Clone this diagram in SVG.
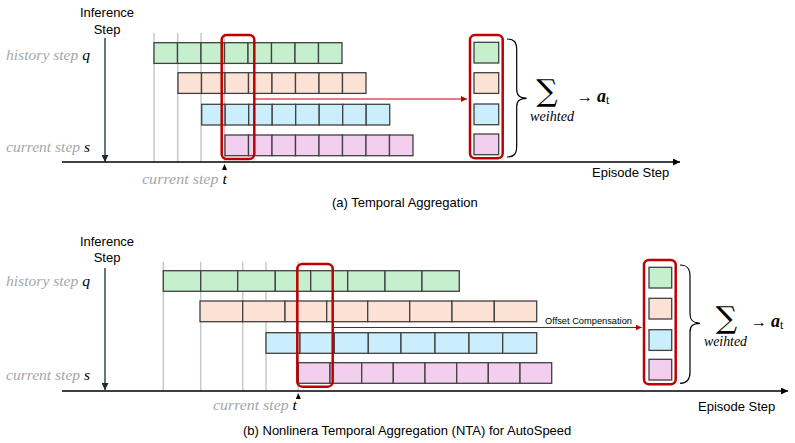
<svg xmlns="http://www.w3.org/2000/svg" width="795" height="443" viewBox="0 0 795 443">
<defs>
<marker id="ah" viewBox="0 0 10 10" refX="10" refY="5" markerWidth="7" markerHeight="7" markerUnits="userSpaceOnUse" orient="auto"><path d="M0,0 L10,5 L0,10 z" fill="#000"/></marker>
<marker id="ahn" viewBox="0 0 10 10" refX="10" refY="5" markerWidth="7" markerHeight="7" markerUnits="userSpaceOnUse" orient="auto"><path d="M0,0 L10,5 L0,10 z" fill="#1c2b3a"/></marker>
<marker id="ahr" viewBox="0 0 10 10" refX="10" refY="5" markerWidth="6" markerHeight="6" markerUnits="userSpaceOnUse" orient="auto"><path d="M0,0 L10,5 L0,10 z" fill="#C00000"/></marker>
</defs>
<style>
.sans{font-family:"Liberation Sans",Arial,sans-serif;font-size:13px;fill:#000}
.lbl{font-family:"Liberation Serif","DejaVu Serif",serif;font-style:italic;font-size:15.5px;fill:#a6a6a6}
.var{fill:#000}
.g{fill:#c6efce;stroke:#404040;stroke-width:1.3}
.o{fill:#fbe2d5;stroke:#404040;stroke-width:1.3}
.b{fill:#caeefb;stroke:#404040;stroke-width:1.3}
.p{fill:#f2cfee;stroke:#404040;stroke-width:1.3}
.grid{stroke:#c8c8c8;stroke-width:1.5}
.axis{stroke:#000;stroke-width:1.3;fill:none}
.varr{stroke:#1c2b3a;stroke-width:1.3;fill:none}
.red{fill:none;stroke:#C00000;stroke-width:2.5}
.rline{stroke:#C00000;stroke-width:1.2;fill:none}
.brace{fill:none;stroke:#000;stroke-width:1.2}
.sig{font-family:"DejaVu Serif","Liberation Serif",serif;font-size:30px;fill:#000}
.w{font-family:"Liberation Serif","DejaVu Serif",serif;font-style:italic;font-size:14px;fill:#000}
.at{font-family:"Liberation Serif","DejaVu Serif",serif;font-size:16px;fill:#000}
</style>

<!-- ===== Part (a) ===== -->
<g id="a-grid">
<line class="grid" x1="154" y1="33" x2="154" y2="162"/>
<line class="grid" x1="177.7" y1="33" x2="177.7" y2="162"/>
<line class="grid" x1="201" y1="33" x2="201" y2="162"/>
<line class="grid" x1="224.5" y1="33" x2="224.5" y2="162"/>
</g>
<g id="a-axes">
<line class="axis" x1="62" y1="162" x2="680" y2="162" marker-end="url(#ah)"/>
<line class="varr" x1="105" y1="38" x2="105" y2="162" marker-end="url(#ahn)"/>
<polygon points="224.5,164 222,170 227,170" fill="#000"/>
</g>
<g id="a-labels">
<text class="sans" x="107" y="17" text-anchor="middle">Inference</text>
<text class="sans" x="107" y="33.5" text-anchor="middle">Step</text>
<text class="lbl" x="6" y="60" textLength="84" lengthAdjust="spacingAndGlyphs">history step <tspan class="var">q</tspan></text>
<text class="lbl" x="6" y="152" textLength="84" lengthAdjust="spacingAndGlyphs">current step <tspan class="var">s</tspan></text>
<text class="lbl" x="142" y="184" textLength="85" lengthAdjust="spacingAndGlyphs">current step <tspan class="var">t</tspan></text>
<text class="sans" x="592" y="177">Episode Step</text>
<text class="sans" x="332" y="207">(a) Temporal Aggregation</text>
</g>
<g id="a-row-history">
<rect class="g" x="154" y="42.7" width="23.5" height="20.7"/>
<rect class="g" x="177.5" y="42.7" width="23.5" height="20.7"/>
<rect class="g" x="201" y="42.7" width="23.5" height="20.7"/>
<rect class="g" x="224.5" y="42.7" width="23.5" height="20.7"/>
<rect class="g" x="248" y="42.7" width="23.5" height="20.7"/>
<rect class="g" x="271.5" y="42.7" width="23.5" height="20.7"/>
<rect class="g" x="295" y="42.7" width="23.5" height="20.7"/>
<rect class="g" x="318.5" y="42.7" width="23.5" height="20.7"/>
</g>
<g id="a-row-2">
<rect class="o" x="178" y="72.7" width="23.5" height="20.7"/>
<rect class="o" x="201.5" y="72.7" width="23.5" height="20.7"/>
<rect class="o" x="225" y="72.7" width="23.5" height="20.7"/>
<rect class="o" x="248.5" y="72.7" width="23.5" height="20.7"/>
<rect class="o" x="272" y="72.7" width="23.5" height="20.7"/>
<rect class="o" x="295.5" y="72.7" width="23.5" height="20.7"/>
<rect class="o" x="319" y="72.7" width="23.5" height="20.7"/>
<rect class="o" x="342.5" y="72.7" width="23.5" height="20.7"/>
</g>
<g id="a-row-3">
<rect class="b" x="201.7" y="104.3" width="23.5" height="20.7"/>
<rect class="b" x="225.2" y="104.3" width="23.5" height="20.7"/>
<rect class="b" x="248.7" y="104.3" width="23.5" height="20.7"/>
<rect class="b" x="272.2" y="104.3" width="23.5" height="20.7"/>
<rect class="b" x="295.7" y="104.3" width="23.5" height="20.7"/>
<rect class="b" x="319.2" y="104.3" width="23.5" height="20.7"/>
<rect class="b" x="342.7" y="104.3" width="23.5" height="20.7"/>
<rect class="b" x="366.2" y="104.3" width="23.5" height="20.7"/>
</g>
<g id="a-row-current">
<rect class="p" x="225" y="135" width="23.5" height="20.7"/>
<rect class="p" x="248.5" y="135" width="23.5" height="20.7"/>
<rect class="p" x="272" y="135" width="23.5" height="20.7"/>
<rect class="p" x="295.5" y="135" width="23.5" height="20.7"/>
<rect class="p" x="319" y="135" width="23.5" height="20.7"/>
<rect class="p" x="342.5" y="135" width="23.5" height="20.7"/>
<rect class="p" x="366" y="135" width="23.5" height="20.7"/>
<rect class="p" x="389.5" y="135" width="23.5" height="20.7"/>
</g>
<g id="a-select">
<rect class="red" x="221.7" y="35" width="32.6" height="124" rx="5"/>
</g>
<g id="a-stack">
<rect class="red" x="470" y="35" width="32.7" height="123.3" rx="5"/>
<rect class="g" x="474" y="42.3" width="24.7" height="20.7"/>
<rect class="o" x="474" y="72.7" width="24.7" height="20.7"/>
<rect class="b" x="474" y="104" width="24.7" height="20.7"/>
<rect class="p" x="474" y="134" width="24.7" height="20.7"/>
</g>
<g id="a-sum">
<path class="brace" d="M507,39 C514,39 516.7,42 516.7,50 L516.7,89 C516.7,95 519,98 526.7,98.3 C519,98.6 516.7,101 516.7,107 L516.7,146 C516.7,154 514,157 507,157"/>
<text class="sig" x="547" y="101" text-anchor="middle">∑</text>
<text class="w" x="530" y="121" textLength="44" lengthAdjust="spacingAndGlyphs">weihted</text>
<text class="at" x="577" y="102">→ <tspan font-weight="bold" font-style="italic" font-size="18">a</tspan><tspan font-size="12" dy="2">t</tspan></text>
</g>
<g id="a-connectors">
<line class="rline" x1="254.3" y1="99" x2="467" y2="99" marker-end="url(#ahr)"/>
</g>

<!-- ===== Part (b) ===== -->
<g id="b-grid">
<line class="grid" x1="163.3" y1="261.7" x2="163.3" y2="391"/>
<line class="grid" x1="200.7" y1="261.7" x2="200.7" y2="391"/>
<line class="grid" x1="242.7" y1="261.7" x2="242.7" y2="391"/>
<line class="grid" x1="266" y1="261.7" x2="266" y2="391"/>
<line class="grid" x1="298.3" y1="261.7" x2="298.3" y2="391"/>
</g>
<g id="b-axes">
<line class="axis" x1="62" y1="391" x2="788" y2="391" marker-end="url(#ah)"/>
<line class="varr" x1="105" y1="268" x2="105" y2="390" marker-end="url(#ahn)"/>
<polygon points="298.3,393 295.8,399 300.8,399" fill="#000"/>
</g>
<g id="b-labels">
<text class="sans" x="107" y="245.5" text-anchor="middle">Inference</text>
<text class="sans" x="107" y="262" text-anchor="middle">Step</text>
<text class="lbl" x="6" y="286" textLength="84" lengthAdjust="spacingAndGlyphs">history step <tspan class="var">q</tspan></text>
<text class="lbl" x="6" y="380" textLength="84" lengthAdjust="spacingAndGlyphs">current step <tspan class="var">s</tspan></text>
<text class="lbl" x="213" y="410" textLength="84" lengthAdjust="spacingAndGlyphs">current step <tspan class="var">t</tspan></text>
<text class="sans" x="698" y="411">Episode Step</text>
<text class="sans" x="243" y="435">(b) Nonlinera Temporal Aggregation (NTA) for AutoSpeed</text>
</g>
<g id="b-row-history">
<rect class="g" x="163.3" y="270.7" width="37.4" height="20.6"/>
<rect class="g" x="200.7" y="270.7" width="37" height="20.6"/>
<rect class="g" x="237.7" y="270.7" width="37.6" height="20.6"/>
<rect class="g" x="275.3" y="270.7" width="35.4" height="20.6"/>
<rect class="g" x="310.7" y="270.7" width="37" height="20.6"/>
<rect class="g" x="347.7" y="270.7" width="37.3" height="20.6"/>
<rect class="g" x="385" y="270.7" width="37" height="20.6"/>
<rect class="g" x="422" y="270.7" width="37.3" height="20.6"/>
</g>
<g id="b-row-2">
<rect class="o" x="200" y="301" width="42.7" height="20.7"/>
<rect class="o" x="242.7" y="301" width="42.3" height="20.7"/>
<rect class="o" x="285" y="301" width="41.7" height="20.7"/>
<rect class="o" x="326.7" y="301" width="41" height="20.7"/>
<rect class="o" x="367.7" y="301" width="42" height="20.7"/>
<rect class="o" x="409.7" y="301" width="42.3" height="20.7"/>
<rect class="o" x="452" y="301" width="42.3" height="20.7"/>
<rect class="o" x="494.3" y="301" width="42.4" height="20.7"/>
</g>
<g id="b-row-3">
<rect class="b" x="266" y="332.7" width="34" height="20.6"/>
<rect class="b" x="300" y="332.7" width="34.3" height="20.6"/>
<rect class="b" x="334.3" y="332.7" width="34" height="20.6"/>
<rect class="b" x="368.3" y="332.7" width="32.7" height="20.6"/>
<rect class="b" x="401" y="332.7" width="34" height="20.6"/>
<rect class="b" x="435" y="332.7" width="34" height="20.6"/>
<rect class="b" x="469" y="332.7" width="33.7" height="20.6"/>
<rect class="b" x="502.7" y="332.7" width="34" height="20.6"/>
</g>
<g id="b-row-current">
<rect class="p" x="298.3" y="362.7" width="31.7" height="20.6"/>
<rect class="p" x="330" y="362.7" width="31.7" height="20.6"/>
<rect class="p" x="361.7" y="362.7" width="31.6" height="20.6"/>
<rect class="p" x="393.3" y="362.7" width="31.7" height="20.6"/>
<rect class="p" x="425" y="362.7" width="31.7" height="20.6"/>
<rect class="p" x="456.7" y="362.7" width="31.6" height="20.6"/>
<rect class="p" x="488.3" y="362.7" width="31.7" height="20.6"/>
<rect class="p" x="520" y="362.7" width="31.7" height="20.6"/>
</g>
<g id="b-select">
<rect class="red" x="297.3" y="264" width="35.4" height="122.7" rx="5"/>
</g>
<g id="b-stack">
<rect class="red" x="644" y="260" width="31.7" height="124.3" rx="5"/>
<rect class="g" x="649" y="267.3" width="22.7" height="20.7"/>
<rect class="o" x="649" y="298.3" width="22.7" height="20.7"/>
<rect class="b" x="649" y="329.7" width="22.7" height="20.7"/>
<rect class="p" x="649" y="359.3" width="22.7" height="20.7"/>
</g>
<g id="b-sum">
<path class="brace" d="M680,265 C687,265 690,268 690,276 L690,314 C690,320 692.5,323 700,323.3 C692.5,323.6 690,326 690,332 L690,372 C690,380 687,383.3 680,383.3"/>
<text class="sig" x="726.5" y="328" text-anchor="middle">∑</text>
<text class="w" x="704" y="346" textLength="43" lengthAdjust="spacingAndGlyphs">weihted</text>
<text class="at" x="751" y="327">→ <tspan font-weight="bold" font-style="italic" font-size="18">a</tspan><tspan font-size="12" dy="2">t</tspan></text>
</g>
<g id="b-connectors">
<line class="rline" x1="332.7" y1="327.5" x2="641.7" y2="327.5" marker-end="url(#ahr)"/>
<text x="545" y="324" font-family="Liberation Sans,Arial,sans-serif" font-size="9" textLength="87" lengthAdjust="spacingAndGlyphs" fill="#000">Offset Compensation</text>
</g>
</svg>
